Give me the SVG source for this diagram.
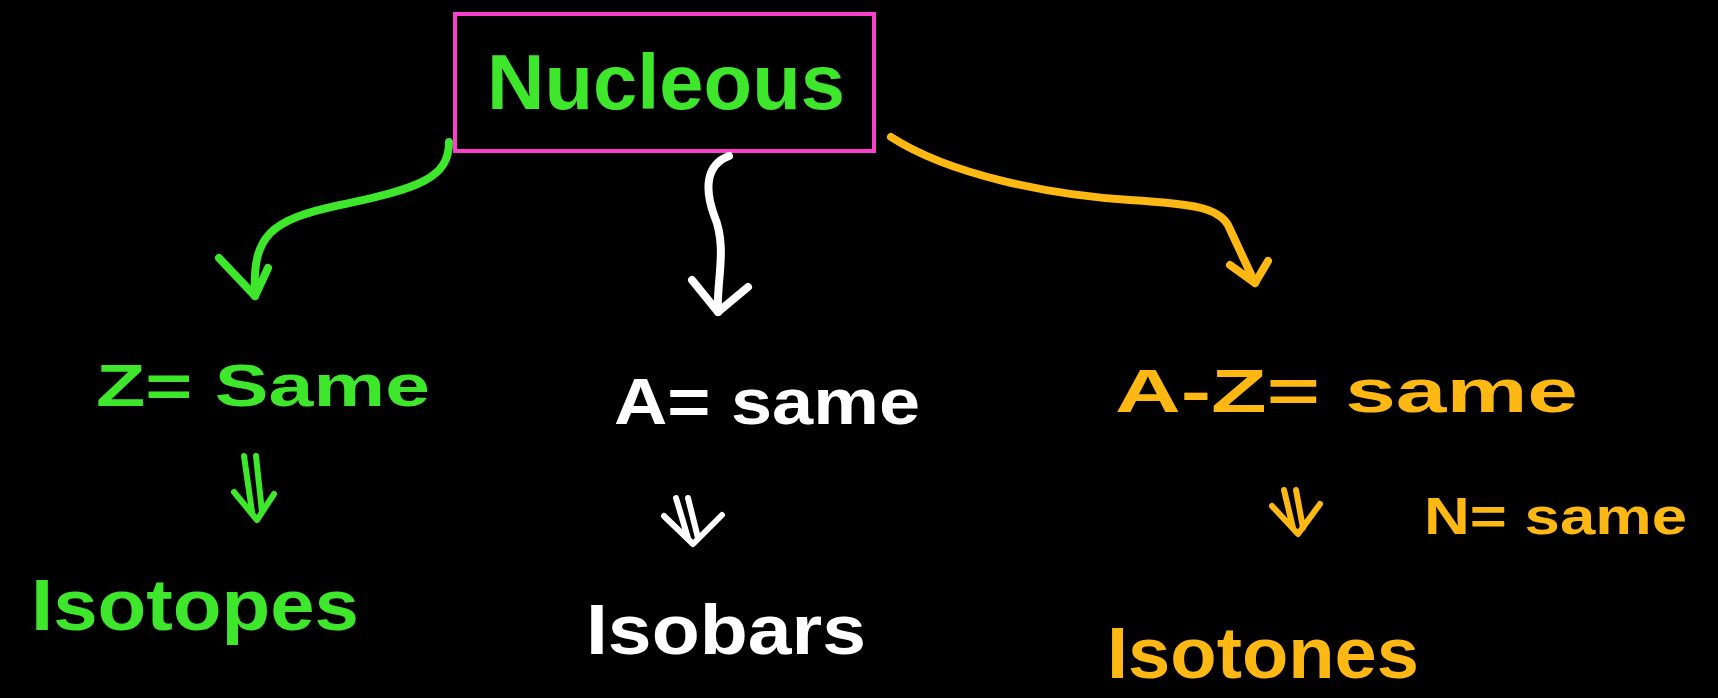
<svg xmlns="http://www.w3.org/2000/svg" width="1718" height="698" viewBox="0 0 1718 698">
<style>
.t{font-family:"Liberation Sans","DejaVu Sans",sans-serif;font-weight:bold;}
.g{fill:#3ee62c}.w{fill:#ffffff}.y{fill:#fdb813}
.c{fill:none;stroke-width:8;stroke-linecap:round;stroke-linejoin:round}
.cg{stroke:#3ee62c}.cw{stroke:#ffffff}.cy{stroke:#fdb813}
.d{fill:none;stroke-width:6;stroke-linecap:round;stroke-linejoin:round}
</style>
<rect width="1718" height="698" fill="#000"/>
<g id="nucleous">
<rect x="455" y="14" width="419" height="137" fill="none" stroke="#ff3dcc" stroke-width="4"/>
<text class="t g" x="487" y="109" font-size="78" textLength="358" lengthAdjust="spacingAndGlyphs">Nucleous</text>
</g>
<g id="isotopes-cond"><text class="t g" x="96" y="406" font-size="60" textLength="334" lengthAdjust="spacingAndGlyphs">Z= Same</text></g>
<g id="isotopes"><text class="t g" x="31" y="630" font-size="72" textLength="328" lengthAdjust="spacingAndGlyphs">Isotopes</text></g>
<g id="isobars-cond"><text class="t w" x="614" y="424" font-size="64" textLength="306" lengthAdjust="spacingAndGlyphs">A= same</text></g>
<g id="isobars"><text class="t w" x="586" y="654" font-size="70" textLength="280" lengthAdjust="spacingAndGlyphs">Isobars</text></g>
<g id="isotones-cond"><text class="t y" x="1115" y="412" font-size="62" textLength="463" lengthAdjust="spacingAndGlyphs">A-Z= same</text></g>
<g id="isotones-n"><text class="t y" x="1424" y="534" font-size="52" textLength="263" lengthAdjust="spacingAndGlyphs">N= same</text></g>
<g id="isotones"><text class="t y" x="1107" y="678" font-size="72" textLength="312" lengthAdjust="spacingAndGlyphs">Isotones</text></g>
<g id="connectors">
<path class="c cg" d="M449,142 C449,178 420,188 340,205 C270,220 252,235 255,296"/>
<path class="c cg" d="M219,258 L255,296 L268,268"/>
<path class="c cw" d="M729,156 C705,165 705,190 714,215 C728,248 716,282 718,312"/>
<path class="c cw" d="M692,280 L718,312 L748,287"/>
<path class="c cy" d="M891,137 C950,175 1050,195 1130,200 C1195,204 1218,208 1228,225 L1255,283"/>
<path class="c cy" d="M1230,265 L1255,283 L1268,261"/>
<path class="d cg" d="M244,456 L252,512 M256,456 L262,512 M234,492 L257,520 L274,494"/>
<path class="d cw" d="M676,498 L688,538 M688,498 L698,538 M664,516 L693,544 L722,515"/>
<path class="d cy" d="M1284,490 L1293,528 M1296,490 L1303,528 M1272,506 L1298,534 L1320,504"/>
</g>
</svg>
